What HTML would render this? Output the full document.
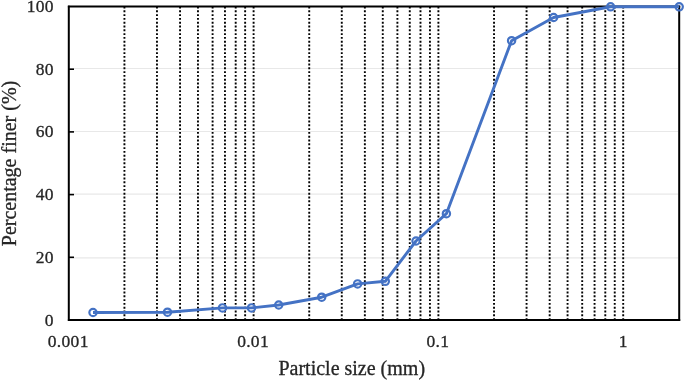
<!DOCTYPE html>
<html><head><meta charset="utf-8"><style>
html,body{margin:0;padding:0;background:#fff;}
body{width:685px;height:380px;overflow:hidden;font-family:"Liberation Serif",serif;}
svg{display:block;}
</style></head><body>
<svg style="will-change:transform" width="685" height="380" viewBox="0 0 685 380">
<rect width="685" height="380" fill="#fff"/>
<line x1="70" y1="68.5" x2="678" y2="68.5" stroke="#e8e8e8" stroke-width="1.1"/><line x1="70" y1="131.5" x2="678" y2="131.5" stroke="#e8e8e8" stroke-width="1.1"/><line x1="70" y1="194.1" x2="678" y2="194.1" stroke="#e8e8e8" stroke-width="1.1"/><line x1="70" y1="257.9" x2="678" y2="257.9" stroke="#e8e8e8" stroke-width="1.1"/><line x1="124.43" y1="6.55" x2="124.43" y2="319.5" stroke="#000" stroke-width="1.9" stroke-dasharray="1.9 1.9"/><line x1="156.97" y1="6.55" x2="156.97" y2="319.5" stroke="#000" stroke-width="1.9" stroke-dasharray="1.9 1.9"/><line x1="180.06" y1="6.55" x2="180.06" y2="319.5" stroke="#000" stroke-width="1.9" stroke-dasharray="1.9 1.9"/><line x1="197.97" y1="6.55" x2="197.97" y2="319.5" stroke="#000" stroke-width="1.9" stroke-dasharray="1.9 1.9"/><line x1="212.60" y1="6.55" x2="212.60" y2="319.5" stroke="#000" stroke-width="1.9" stroke-dasharray="1.9 1.9"/><line x1="224.97" y1="6.55" x2="224.97" y2="319.5" stroke="#000" stroke-width="1.9" stroke-dasharray="1.9 1.9"/><line x1="235.69" y1="6.55" x2="235.69" y2="319.5" stroke="#000" stroke-width="1.9" stroke-dasharray="1.9 1.9"/><line x1="245.14" y1="6.55" x2="245.14" y2="319.5" stroke="#000" stroke-width="1.9" stroke-dasharray="1.9 1.9"/><line x1="253.60" y1="6.55" x2="253.60" y2="319.5" stroke="#000" stroke-width="1.9" stroke-dasharray="1.9 1.9"/><line x1="309.23" y1="6.55" x2="309.23" y2="319.5" stroke="#000" stroke-width="1.9" stroke-dasharray="1.9 1.9"/><line x1="341.77" y1="6.55" x2="341.77" y2="319.5" stroke="#000" stroke-width="1.9" stroke-dasharray="1.9 1.9"/><line x1="364.86" y1="6.55" x2="364.86" y2="319.5" stroke="#000" stroke-width="1.9" stroke-dasharray="1.9 1.9"/><line x1="382.77" y1="6.55" x2="382.77" y2="319.5" stroke="#000" stroke-width="1.9" stroke-dasharray="1.9 1.9"/><line x1="397.40" y1="6.55" x2="397.40" y2="319.5" stroke="#000" stroke-width="1.9" stroke-dasharray="1.9 1.9"/><line x1="409.77" y1="6.55" x2="409.77" y2="319.5" stroke="#000" stroke-width="1.9" stroke-dasharray="1.9 1.9"/><line x1="420.49" y1="6.55" x2="420.49" y2="319.5" stroke="#000" stroke-width="1.9" stroke-dasharray="1.9 1.9"/><line x1="429.94" y1="6.55" x2="429.94" y2="319.5" stroke="#000" stroke-width="1.9" stroke-dasharray="1.9 1.9"/><line x1="438.40" y1="6.55" x2="438.40" y2="319.5" stroke="#000" stroke-width="1.9" stroke-dasharray="1.9 1.9"/><line x1="494.03" y1="6.55" x2="494.03" y2="319.5" stroke="#000" stroke-width="1.9" stroke-dasharray="1.9 1.9"/><line x1="526.57" y1="6.55" x2="526.57" y2="319.5" stroke="#000" stroke-width="1.9" stroke-dasharray="1.9 1.9"/><line x1="549.66" y1="6.55" x2="549.66" y2="319.5" stroke="#000" stroke-width="1.9" stroke-dasharray="1.9 1.9"/><line x1="567.57" y1="6.55" x2="567.57" y2="319.5" stroke="#000" stroke-width="1.9" stroke-dasharray="1.9 1.9"/><line x1="582.20" y1="6.55" x2="582.20" y2="319.5" stroke="#000" stroke-width="1.9" stroke-dasharray="1.9 1.9"/><line x1="594.57" y1="6.55" x2="594.57" y2="319.5" stroke="#000" stroke-width="1.9" stroke-dasharray="1.9 1.9"/><line x1="605.29" y1="6.55" x2="605.29" y2="319.5" stroke="#000" stroke-width="1.9" stroke-dasharray="1.9 1.9"/><line x1="614.74" y1="6.55" x2="614.74" y2="319.5" stroke="#000" stroke-width="1.9" stroke-dasharray="1.9 1.9"/><line x1="623.20" y1="6.55" x2="623.20" y2="319.5" stroke="#000" stroke-width="1.9" stroke-dasharray="1.9 1.9"/><line x1="68.8" y1="5.7" x2="68.8" y2="321" stroke="#000" stroke-width="2"/><line x1="67.9" y1="320" x2="680.2" y2="320" stroke="#000" stroke-width="2"/><line x1="679.2" y1="5.7" x2="679.2" y2="321" stroke="#000" stroke-width="2"/><line x1="67.9" y1="6.5" x2="680.2" y2="6.5" stroke="#000" stroke-width="1.8"/><line x1="69" y1="257.30" x2="74" y2="257.30" stroke="#000" stroke-width="1.6"/><line x1="69" y1="194.60" x2="74" y2="194.60" stroke="#000" stroke-width="1.6"/><line x1="69" y1="131.90" x2="74" y2="131.90" stroke="#000" stroke-width="1.6"/><line x1="69" y1="69.20" x2="74" y2="69.20" stroke="#000" stroke-width="1.6"/><path d="M93.0,312.5 L167.5,312.2 L222.5,307.9 L251.5,307.9 L278.7,305.0 L321.7,297.2 L357.6,283.9 L385.3,281.3 L416.0,241.0 L446.4,213.7 L511.6,40.7 L553.6,17.5 L610.6,6.8 L679.2,6.8" fill="none" stroke="#4472C4" stroke-width="2.9" stroke-linejoin="round"/><circle cx="93.0" cy="312.5" r="3.65" fill="none" stroke="#4472C4" stroke-width="2.2"/><circle cx="167.5" cy="312.2" r="3.65" fill="none" stroke="#4472C4" stroke-width="2.2"/><circle cx="222.5" cy="307.9" r="3.65" fill="none" stroke="#4472C4" stroke-width="2.2"/><circle cx="251.5" cy="307.9" r="3.65" fill="none" stroke="#4472C4" stroke-width="2.2"/><circle cx="278.7" cy="305.0" r="3.65" fill="none" stroke="#4472C4" stroke-width="2.2"/><circle cx="321.7" cy="297.2" r="3.65" fill="none" stroke="#4472C4" stroke-width="2.2"/><circle cx="357.6" cy="283.9" r="3.65" fill="none" stroke="#4472C4" stroke-width="2.2"/><circle cx="385.3" cy="281.3" r="3.65" fill="none" stroke="#4472C4" stroke-width="2.2"/><circle cx="416.0" cy="241.0" r="3.65" fill="none" stroke="#4472C4" stroke-width="2.2"/><circle cx="446.4" cy="213.7" r="3.65" fill="none" stroke="#4472C4" stroke-width="2.2"/><circle cx="511.6" cy="40.7" r="3.65" fill="none" stroke="#4472C4" stroke-width="2.2"/><circle cx="553.6" cy="17.5" r="3.65" fill="none" stroke="#4472C4" stroke-width="2.2"/><circle cx="610.6" cy="6.8" r="3.65" fill="none" stroke="#4472C4" stroke-width="2.2"/><circle cx="679.2" cy="6.8" r="3.65" fill="none" stroke="#4472C4" stroke-width="2.2"/>
<g font-family="Liberation Serif, serif" font-size="17.5" letter-spacing="0.3" fill="#262626" stroke="#262626" stroke-width="0.3">
<text transform="translate(53.8,326.00) scale(1,1.0)" text-anchor="end">0</text><text transform="translate(53.8,263.16) scale(1,1.0)" text-anchor="end">20</text><text transform="translate(53.8,200.32) scale(1,1.0)" text-anchor="end">40</text><text transform="translate(53.8,137.48) scale(1,1.0)" text-anchor="end">60</text><text transform="translate(53.8,74.64) scale(1,1.0)" text-anchor="end">80</text><text transform="translate(53.8,11.80) scale(1,1.0)" text-anchor="end">100</text>
<text transform="translate(68.25,346.9) scale(1,1.0)" text-anchor="middle">0.001</text><text transform="translate(253.05,346.9) scale(1,1.0)" text-anchor="middle">0.01</text><text transform="translate(437.85,346.9) scale(1,1.0)" text-anchor="middle">0.1</text><text transform="translate(623.25,346.9) scale(1,1.0)" text-anchor="middle">1</text>
</g>
<g font-family="Liberation Serif, serif" font-size="20" fill="#262626" stroke="#262626" stroke-width="0.3">
<text x="351.75" y="374.5" text-anchor="middle">Particle size (mm)</text>
<text transform="translate(16.3,163.5) rotate(-90)" text-anchor="middle">Percentage finer (%)</text>
</g>
</svg>
</body></html>
